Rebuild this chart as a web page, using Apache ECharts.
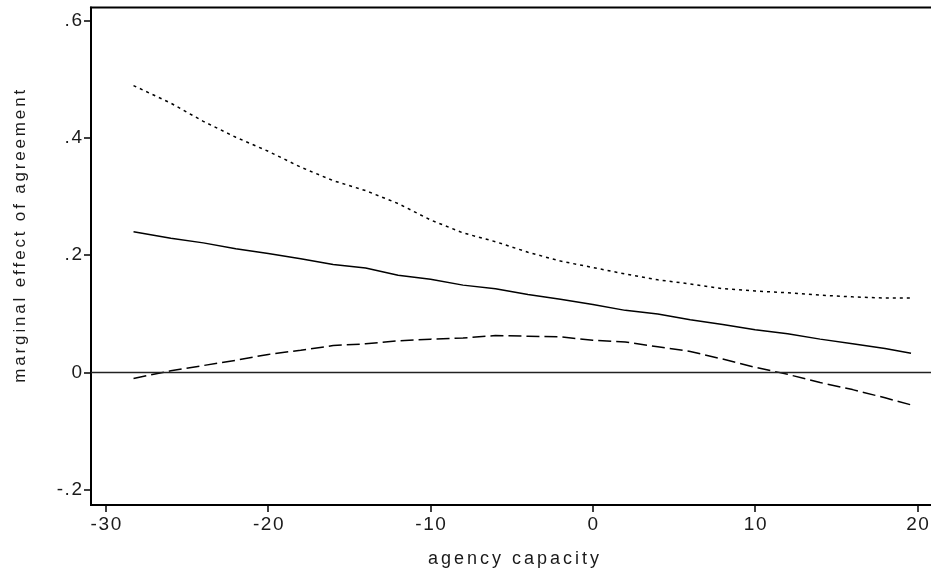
<!DOCTYPE html>
<html>
<head>
<meta charset="utf-8">
<script src="https://cdn.jsdelivr.net/npm/echarts@6/dist/echarts.min.js"></script>
<style>
html,body{margin:0;padding:0;background:#fff;}
#chart{width:931px;height:573px;}
</style>
</head>
<body>
<div id="chart"></div>
<script>
// agency capacity (x)
const capacity = [-28.3,-26,-24,-22,-20,-18,-16,-14,-12,-10,-8,-6,-4,-2,0,2,4,6,8,10,12,14,16,18,19.6];
// upper bound (dotted)
const upper = [0.489,0.459,0.428,0.401,0.377,0.350,0.327,0.310,0.288,0.260,0.238,0.223,0.205,0.190,0.179,0.168,0.158,0.151,0.143,0.139,0.136,0.132,0.129,0.127,0.127];
// marginal effect (solid)
const effect = [0.240,0.229,0.221,0.211,0.203,0.194,0.184,0.178,0.166,0.159,0.149,0.143,0.133,0.125,0.116,0.106,0.100,0.090,0.082,0.073,0.066,0.057,0.049,0.041,0.033];
// lower bound (dashed)
const lower = [-0.010,0.003,0.012,0.021,0.031,0.038,0.046,0.049,0.054,0.057,0.059,0.063,0.062,0.061,0.055,0.052,0.044,0.036,0.023,0.009,-0.003,-0.017,-0.029,-0.043,-0.055];

const xTicks = [-30,-20,-10,0,10,20];
const xTickLabels = ['-30','-20','-10','0','10','20'];
const yTicks = [-0.2,0,0.2,0.4,0.6];
const yTickLabels = ['-.2','0','.2','.4','.6'];
const xTitle = 'agency capacity';
const yTitle = 'marginal effect of agreement';

const HAIR = '\u200A';
const SIX = '\u2006';
function spaced(s, sp){ return s.split('').join(sp); }
function pairs(ys){ return capacity.map((x,i)=>[x, ys[i]]); }

const font = '"Liberation Sans", Arial, sans-serif';
const txt = '#1a1a1a';

const chart = echarts.init(document.getElementById('chart'), null, {renderer:'canvas'});
chart.setOption({
  animation:false,
  backgroundColor:'#fff',
  grid:{left:91, top:7.5, width:845, height:497.5, show:true, borderColor:'#000', borderWidth:2, containLabel:false, outerBoundsMode:'none'},
  xAxis:{
    type:'value', min:-30.92, max:21.14,
    name: spaced(xTitle, SIX), nameLocation:'middle', nameGap:45,
    nameTextStyle:{fontFamily:font, fontSize:18, color:txt},
    axisLine:{show:true, onZero:false, lineStyle:{color:'#000', width:2}},
    axisTick:{show:true, customValues:xTicks, length:7, lineStyle:{color:'#000', width:1.5}},
    axisLabel:{customValues:xTicks, margin:10, fontFamily:font, fontSize:19, color:txt,
      formatter:(v)=>{ const i = xTicks.indexOf(v); return spaced(i>=0?xTickLabels[i]:String(v), HAIR); }},
    splitLine:{show:false}
  },
  yAxis:{
    type:'value', min:-0.2256, max:0.622,
    name: spaced(yTitle, SIX), nameLocation:'middle', nameGap:62,
    nameTextStyle:{fontFamily:font, fontSize:17, color:txt, padding:[0,0,0,40]},
    axisLine:{show:true, onZero:false, lineStyle:{color:'#000', width:2}},
    axisTick:{show:true, customValues:yTicks, length:7, lineStyle:{color:'#000', width:1.5}},
    axisLabel:{customValues:yTicks, margin:9, fontFamily:font, fontSize:19, color:txt,
      formatter:(v)=>{ const i = yTicks.findIndex(t=>Math.abs(t-v)<1e-9); return spaced(i>=0?yTickLabels[i]:String(v), HAIR); }},
    splitLine:{show:false}
  },
  series:[
    {type:'line', data:pairs(upper), symbol:'none', lineStyle:{color:'#000', width:1.5, type:[3,4]}},
    {type:'line', data:pairs(effect), symbol:'none', lineStyle:{color:'#000', width:1.5, type:'solid'},
      markLine:{silent:true, symbol:'none', label:{show:false}, lineStyle:{color:'#222', width:1.3, type:'solid'}, data:[{yAxis:0}]}},
    {type:'line', data:pairs(lower), symbol:'none', lineStyle:{color:'#000', width:1.5, type:[13,5]}}
  ]
});
</script>
</body>
</html>
